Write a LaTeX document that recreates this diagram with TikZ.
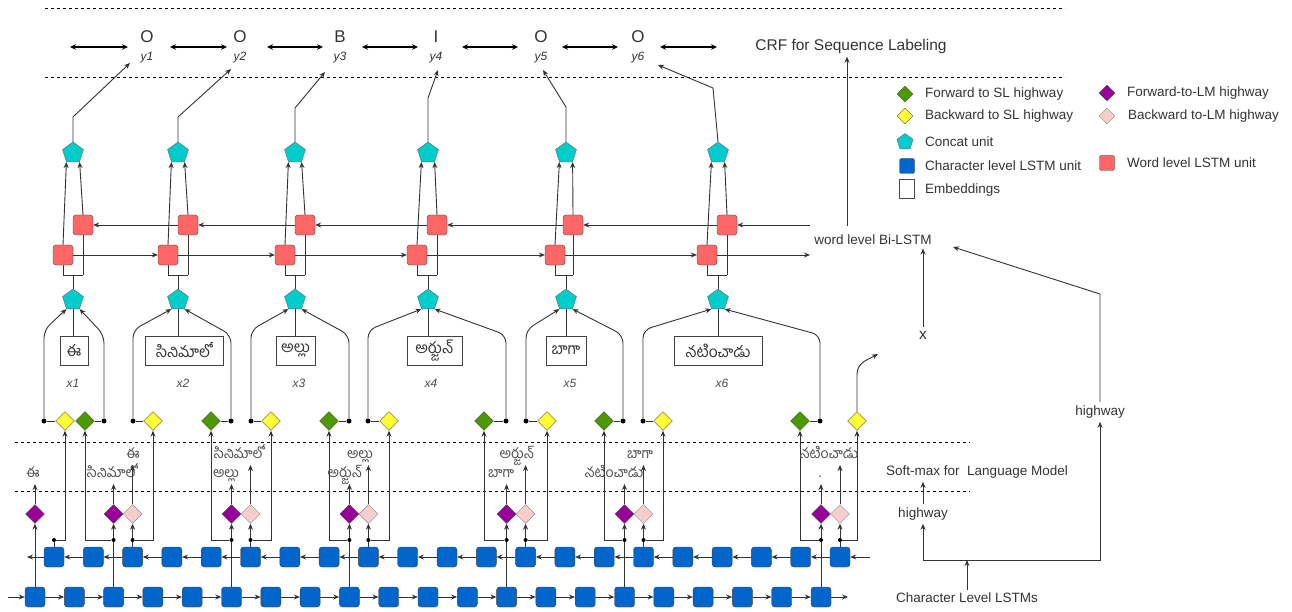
\documentclass[tikz,border=0pt]{standalone}
\usepackage{fontspec}
\setmainfont{Liberation Sans}
\newfontfamily\telugu[Script=Telugu]{Hind Guntur}
\usetikzlibrary{shapes.geometric,arrows.meta,calc}
\definecolor{cgreen}{HTML}{4D9900}
\definecolor{cyellow}{HTML}{FFFF33}
\definecolor{cpurple}{HTML}{990099}
\definecolor{cpink}{HTML}{F8CECC}
\definecolor{ccyan}{HTML}{00CCCC}
\definecolor{cblue}{HTML}{0066CC}
\definecolor{cred}{HTML}{FF6666}
\definecolor{txt}{HTML}{333333}
\definecolor{lgray}{HTML}{4D4D4D}
\definecolor{ln}{HTML}{333333}
\tikzset{
  every node/.style={text=txt, font=\fontsize{13.5}{16}\selectfont},
  charbox/.style={draw=black!75, fill=cblue, rounded corners=3pt, minimum size=20pt, inner sep=0pt},
  wordbox/.style={draw=black!75, fill=cred, rounded corners=3pt, minimum size=20pt, inner sep=0pt},
  concat/.style={regular polygon, regular polygon sides=5, draw=black!60, fill=ccyan, minimum size=22pt, inner sep=0pt},
  dia/.style={diamond, draw=black!70, minimum width=19pt, minimum height=19pt, inner sep=0pt},
  fsl/.style={dia, fill=cgreen},
  bsl/.style={dia, fill=cyellow},
  flm/.style={dia, fill=cpurple},
  blm/.style={dia, fill=cpink, draw=black!45},
  jdot/.style={circle, fill=black, inner sep=0pt, minimum size=5pt},
  sdot/.style={circle, fill=black, inner sep=0pt, minimum size=4pt},
  emb/.style={draw=black!75, fill=white, minimum height=29pt, inner sep=0pt, font=\telugu\fontsize{15.5}{15.5}\selectfont},
  lmlab/.style={text=lgray, inner sep=0pt, anchor=base, font=\telugu\fontsize{14}{14}\selectfont},
  conn/.style={draw=ln, line width=0.9pt},
  arr/.style={conn, -{Stealth[length=6pt,width=5pt]}},
  dbl/.style={draw=black, line width=1.1pt, {Stealth[length=6pt,width=5.5pt]}-{Stealth[length=6pt,width=5.5pt]}},
  dashline/.style={draw=black, line width=0.8pt, dash pattern=on 3pt off 3pt},
  biglab/.style={font=\fontsize{17}{17}\selectfont},
  ylab/.style={font=\fontsize{12}{12}\selectfont\itshape},
  xlab/.style={text=lgray, font=\fontsize{12}{12}\selectfont\itshape},
  lgtext/.style={anchor=west, inner sep=0pt},
}
\begin{document}
\begin{tikzpicture}[x=1pt,y=-1pt]
\useasboundingbox (0,0) rectangle (1292,612);
\fill[white] (0,0) rectangle (1292,612);

% dashed separators
\draw[dashline] (45,8) -- (1065,8);
\draw[dashline] (45,77) -- (1065,77);
\draw[dashline] (15,442) -- (970,442);
\draw[dashline] (15,491) -- (970,491);

% top labels
\foreach \i/\x/\lab in {1/147/O, 2/240/O, 3/340/B, 4/436/I, 5/541/O, 6/638/O}{
  \node[biglab] (o\i) at (\x,37) {\lab};
  \node[ylab] (y\i) at (\x,58) {y\i};
}
\foreach \a/\b in {70/128,170/227,267/323,362/418,462/518,562/618,660/717}
  \draw[dbl] (\a,47) -- (\b,47);
\node[font=\fontsize{15.5}{17}\selectfont] (crf) at (851,46) {CRF for Sequence Labeling};

% word level part
\foreach \i/\px/\fx/\bx in {1/73/63/83, 2/178/168/188, 3/295/285/305, 4/428/417/437, 5/566/555/573, 6/718/707/727}{
  \node[concat] (tp\i) at (\px,153) {};
  \node[concat] (lp\i) at (\px,300) {};
  \coordinate (br\i) at (\px,275);
  \coordinate (bf\i) at (\fx,275);
  \coordinate (bb\i) at (\bx,275);
  \draw[conn] (lp\i.north) -- (br\i);
  \draw[conn] (bf\i) -- (bb\i);
  \draw[conn] (bf\i) -- (\fx,245);
  \draw[conn] (bb\i) -- (\bx,215);
  \node[wordbox] (wf\i) at (\fx,255) {};
  \node[wordbox] (wb\i) at (\bx,225) {};
  \draw[arr] (wf\i.north) -- (tp\i.corner 3);
  \draw[arr] (wb\i.north) -- (tp\i.corner 4);
}
\foreach \i/\bx/\by/\tx/\ty in {1/73/117/130/63, 2/178/117/231/69, 3/295/108/325/72, 4/428/98/438/70, 5/566/107/543/70, 6/713/88/658/65}{
  \coordinate (yt\i) at (\tx,\ty);
  \draw[arr] (tp\i.north) -- (\bx,\by) -- (yt\i);
}
\foreach \i in {1,...,5}{
  \pgfmathtruncatemacro{\n}{\i+1}
  \draw[arr] (wf\i) -- (wf\n);
  \draw[arr] (wb\n) -- (wb\i);
}
\coordinate (wfout) at (810,255);
\coordinate (wbin) at (810,225);
\draw[arr] (wf6) -- (wfout);
\draw[arr] (wbin) -- (wb6);

% embeddings
\node[emb, minimum width=28pt] (e1) at (74,350.5) {ఈ};
\node[emb, minimum width=78pt] (e2) at (184,350.5) {సినిమాలో};
\node[emb, minimum width=39pt] (e3) at (295.5,350.5) {అల్లు};
\node[emb, minimum width=55pt] (e4) at (434.5,350.5) {అర్జున్};
\node[emb, minimum width=40pt] (e5) at (566,350.5) {బాగా};
\node[emb, minimum width=88pt] (e6) at (718,350.5) {నటించాడు};
\foreach \i in {1,...,6} \draw[conn] (e\i.north -| lp\i) -- (lp\i.south);
\foreach \i/\x in {1/73,2/183,3/299,4/431,5/570,6/722}
  \node[xlab] (xl\i) at (\x,383) {x\i};

% SL highway row
\foreach \n/\x in {1/65,2/153,3/271,4/389,5/547,6/663,7/857} \node[bsl] (Y\n) at (\x,421) {};
\foreach \n/\x in {1/85,2/211,3/329,4/484,5/604,6/800} \node[fsl] (G\n) at (\x,421) {};
\foreach \n/\x in {1/44,2/133,3/251,4/368,5/526,6/643} \node[jdot] (L\n) at (\x,421) {};
\foreach \n/\x in {1/104,2/231,3/349,4/506,5/623,6/820} \node[jdot] (R\n) at (\x,421) {};
\foreach \n in {1,...,6}{
  \draw[conn] (L\n) -- (Y\n);
  \draw[conn] (G\n) -- (R\n);
  \draw[arr, rounded corners=8pt] (L\n) -- (L\n |- 0,330) -- (lp\n.corner 3);
  \draw[arr, rounded corners=8pt] (R\n) -- (R\n |- 0,335) -- (lp\n.corner 4);
}
\coordinate (xin) at (878,354);
\draw[arr] (Y7.north) -- ++(0,-37) .. controls +(0,-12) and +(-9,5) .. (xin);

% character level LSTMs
\foreach \k in {0,...,20}{
  \node[charbox] (F\k) at ({35+39.3*\k},597) {};
  \node[charbox] (B\k) at ({54+39.3*\k},557) {};
}
\foreach \k in {0,...,19}{
  \pgfmathtruncatemacro{\n}{\k+1}
  \draw[arr] (F\k) -- (F\n);
  \draw[arr] (B\n) -- (B\k);
}
\coordinate (Fin) at (8,597);
\coordinate (Fout) at (848,597);
\coordinate (Bin) at (870,557);
\coordinate (Bout) at (27,557);
\draw[arr] (Fin) -- (F0);
\draw[arr] (F20) -- (Fout);
\draw[arr] (Bin) -- (B20);
\draw[arr] (B0) -- (Bout);

% LM highways
\foreach \n/\k in {1/0,2/2,3/5,4/8,5/12,6/15,7/20} \node[flm] (P\n) at (F\k |- 0,514) {};
\foreach \n/\k in {2/2,3/5,4/8,5/12,6/15,7/20} \node[blm] (K\n) at (B\k |- 0,514) {};
\draw[arr] (F0.north) -- (P1.south);
\foreach \n/\k/\g in {2/2/1,3/5/2,4/8/3,5/12/4,6/15/5,7/20/6}{
  \node[sdot] (fd\n) at (F\k |- 0,540) {};
  \draw[conn] (F\k.north) -- (fd\n);
  \draw[arr] (fd\n) -- (P\n.south);
  \draw[arr] (fd\n) -| (G\g.south);
}
\foreach \n/\k in {1/0,2/2,3/5,4/8,5/12,6/15,7/20}{
  \node[sdot] (bd\n) at (B\k |- 0,540) {};
  \draw[conn] (B\k.north) -- (bd\n);
  \draw[arr] (bd\n) -| (Y\n.south);
}
\foreach \n in {2,...,7} \draw[arr] (bd\n) -- (K\n.south);

% LM labels
\node[lmlab] (pl1) at (33,477) {ఈ};
\node[lmlab] (pl2) at (112,477) {సినిమాలో};
\node[lmlab] (pl3) at (226,477) {అల్లు};
\node[lmlab] (pl4) at (345,477) {అర్జున్};
\node[lmlab] (pl5) at (501,477) {బాగా};
\node[lmlab] (pl6) at (614,477) {నటించాడు};
\node[lmlab] (pl7) at (820,477) {.};
\node[lmlab] (kl2) at (133,458) {ఈ};
\node[lmlab] (kl3) at (239,458) {సినిమాలో};
\node[lmlab] (kl4) at (360,458) {అల్లు};
\node[lmlab] (kl5) at (517,458) {అర్జున్};
\node[lmlab] (kl6) at (640,458) {బాగా};
\node[lmlab] (kl7) at (829,458) {నటించాడు};
\foreach \n in {1,...,7} \draw[arr, shorten >=7pt] (P\n.north) -- (P\n.north |- pl\n.base);
\foreach \n in {2,...,7} \draw[arr, shorten >=7pt] (K\n.north) -- (K\n.north |- kl\n.base);

% right-hand annotations
\node (bilstm) at (873,240) {word level Bi-LSTM};
\coordinate (crfa) at (847,226);
\draw[arr] (crfa) -- (crfa |- crf.south);
\node[font=\fontsize{15.5}{17}\selectfont] (xn) at (923,335) {x};
\draw[arr] (xn.north) -- (xn.north |- bilstm.south);
\node (smx) at (977,472) {Soft-max for~~Language Model};
\node (hw1) at (923,514) {highway};
\node (hw2) at (1100,412) {highway};
\node (cl) at (967,598) {Character Level LSTMs};
\coordinate (cj) at (967,560);
\draw[arr] (hw1.north) -- (hw1.north |- smx.south);
\draw[arr] (cl.north) -- (cj);
\draw[arr] (cj) -| (hw1.south);
\draw[arr] (cj) -| (hw2.south);
\coordinate (bin) at (953,247);
\draw[arr] (hw2.north) -- (1100,294) -- (bin);

% legend
\node[fsl, minimum width=16pt, minimum height=16pt] (lg1) at (905,94) {};
\node[lgtext] at (925,94) {Forward to SL highway};
\node[bsl, minimum width=16pt, minimum height=16pt] (lg2) at (905,116) {};
\node[lgtext] at (925,116) {Backward to SL highway};
\node[concat, minimum size=17pt] (lg3) at (905,142) {};
\node[lgtext] at (925,142) {Concat unit};
\node[charbox, minimum size=15pt, rounded corners=2pt] (lg4) at (907,166) {};
\node[lgtext] at (925,166) {Character level LSTM unit};
\node[draw=black!70, fill=white, minimum width=15pt, minimum height=19pt, inner sep=0pt] (lg5) at (907,189) {};
\node[lgtext] at (925,190) {Embeddings};
\node[flm, minimum width=16pt, minimum height=16pt] (lg6) at (1107,93) {};
\node[lgtext] at (1127,93) {Forward-to-LM highway};
\node[blm, minimum width=16pt, minimum height=16pt] (lg7) at (1107,116) {};
\node[lgtext] at (1128,116) {Backward to-LM highway};
\node[wordbox, minimum size=15pt, rounded corners=2pt] (lg8) at (1107,163) {};
\node[lgtext] at (1127,163) {Word level LSTM unit};
\end{tikzpicture}
\end{document}
